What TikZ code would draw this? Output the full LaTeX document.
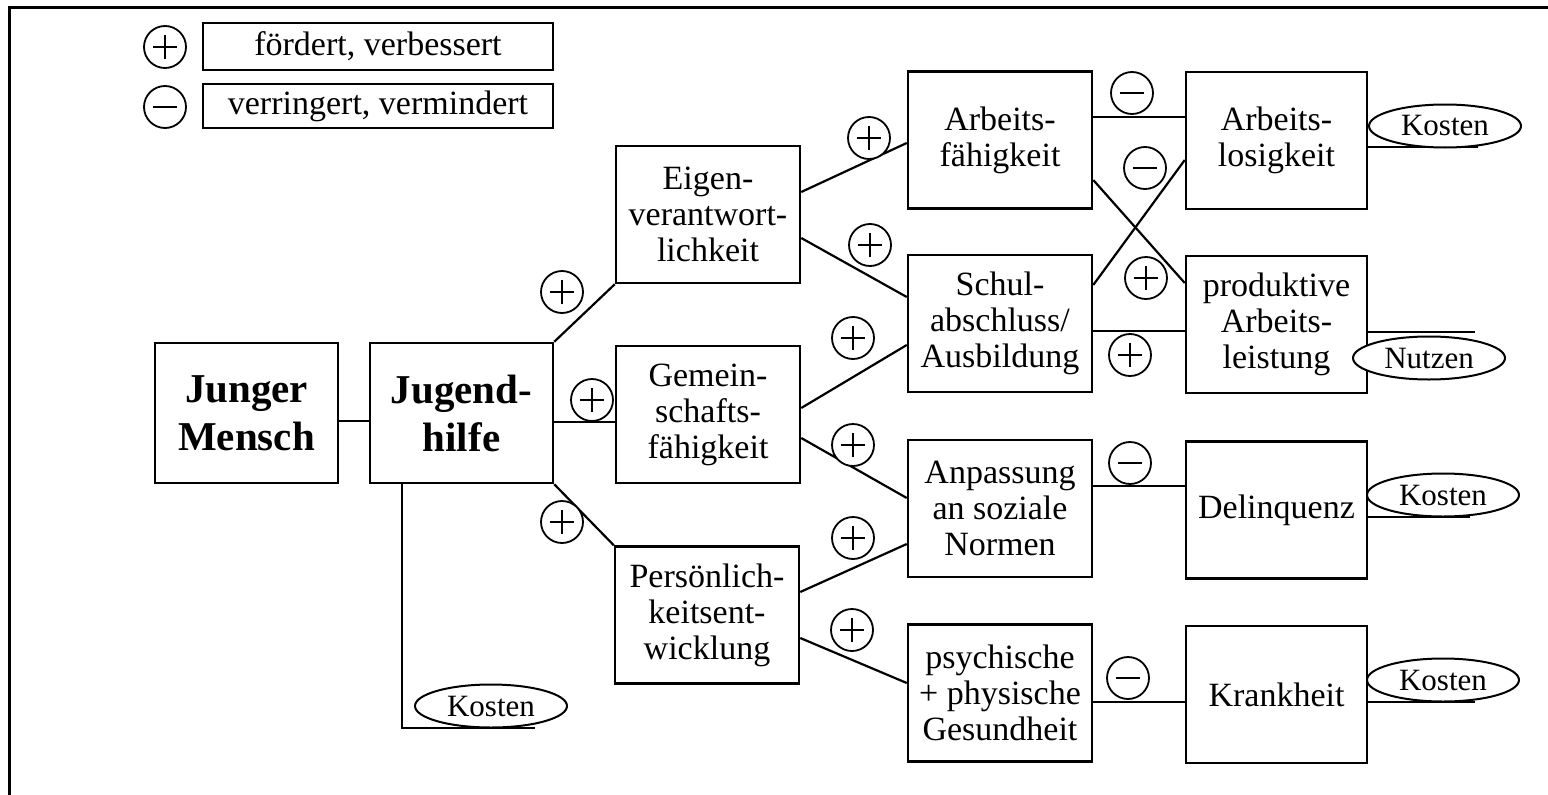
\documentclass[tikz,border=0pt]{standalone}
\usepackage{fontspec}
\setmainfont{Liberation Serif}
\usetikzlibrary{shapes.geometric}
\tikzset{
  box/.style={draw, line width=2.5pt, align=center, inner sep=0pt,
    minimum width=184pt, minimum height=137pt,
    font=\fontsize{34}{36}\selectfont},
  bigbox/.style={box, minimum width=183pt, minimum height=140pt,
    font=\fontsize{41}{48}\selectfont\bfseries},
  rbox/.style={box, minimum width=181pt},
  legbox/.style={draw, line width=2.2pt, inner sep=0pt, minimum width=350pt,
    font=\fontsize{34}{36}\selectfont},
  oval/.style={ellipse, draw, line width=2pt, inner sep=0pt,
    minimum width=152pt, minimum height=43pt,
    font=\fontsize{31}{33}\selectfont},
  conn/.style={line width=2.2pt},
  sgn/.style={circle, draw, line width=1.8pt, minimum size=42pt, inner sep=0pt, fill=white},
  psign/.style={sgn, path picture={
    \draw[line width=2.2pt] ([xshift=-12pt]path picture bounding box.center) -- ([xshift=12pt]path picture bounding box.center);
    \draw[line width=2.2pt] ([yshift=-12pt]path picture bounding box.center) -- ([yshift=12pt]path picture bounding box.center);}},
  msign/.style={sgn, path picture={
    \draw[line width=2.2pt] ([xshift=-12pt]path picture bounding box.center) -- ([xshift=12pt]path picture bounding box.center);}},
}
\begin{document}
\begin{tikzpicture}[x=1pt,y=-1pt]
\useasboundingbox (0,0) rectangle (1548,795);
% frame
\coordinate (ftl) at (9,7.5);
\coordinate (ftr) at (1548,7.5);
\coordinate (fbl) at (9,795);
\draw[line width=3pt] (fbl) -- (ftl) -- (ftr);

% legend
\node[psign] (lp) at (165,47) {};
\node[legbox, minimum height=47pt] (lb1) at (378,46.5) {fördert, verbessert};
\node[msign] (lm) at (165,107) {};
\node[legbox, minimum height=44pt] (lb2) at (378,106) {verringert, vermindert};

% boxes
\node[bigbox] (jm) at (246.5,413) {Junger\\Mensch};
\node[bigbox] (jh) at (461.5,413) {Jugend-\\hilfe};
\node[box] (eigen) at (708,214.5) {Eigen-\\verantwort-\\lichkeit};
\node[box] (gemein) at (708,414.5) {Gemein-\\schafts-\\fähigkeit};
\node[box] (pers) at (707,615) {Persönlich-\\keitsent-\\wicklung};
\node[box] (arbf) at (1000,140) {Arbeits-\\fähigkeit};
\node[box] (schul) at (1000,323.5) {Schul-\\abschluss/\\Ausbildung};
\node[box] (anp) at (1000,508.5) {Anpassung\\an soziale\\Normen};
\node[box] (psy) at (1000,693) {psychische\\+ physische\\Gesundheit};
\node[rbox] (arbl) at (1276.5,140.5) {Arbeits-\\losigkeit};
\node[rbox] (prod) at (1276.5,324.5) {produktive\\Arbeits-\\leistung};
\node[rbox] (del) at (1276.5,510) {Delinquenz};
\node[rbox] (krank) at (1276.5,694.5) {Krankheit};

% connectors
\draw[conn] ([yshift=-8pt]jm.east) -- ([yshift=-8pt]jm.east -| jh.west);
\draw[conn] (jh.north east) -- (eigen.south west);
\draw[conn] ([yshift=-9pt]jh.east) -- ([yshift=-9pt]jh.east -| gemein.west);
\draw[conn] (jh.south east) -- (pers.north west);
\coordinate (kjhend) at (535,728);
\draw[conn] ([xshift=-59.5pt]jh.south) |- (kjhend);

\draw[conn] ([yshift=22.5pt]eigen.east) -- ([yshift=-3pt]arbf.west);
\draw[conn] ([yshift=-23.5pt]eigen.east) -- ([yshift=26.5pt]schul.west);
\draw[conn] ([yshift=6.5pt]gemein.east) -- ([yshift=-21.5pt]schul.west);
\draw[conn] ([yshift=-23.5pt]gemein.east) -- ([yshift=10.5pt]anp.west);
\draw[conn] ([yshift=23pt]pers.east) -- ([yshift=-35.5pt]anp.west);
\draw[conn] ([yshift=-23pt]pers.east) -- ([yshift=10pt]psy.west);

\draw[conn] ([yshift=23pt]arbf.east) -- ([yshift=23pt]arbf.east -| arbl.west);
\draw[conn] ([yshift=-40pt]arbf.east) -- ([yshift=41.5pt]prod.west);
\draw[conn] ([yshift=38.5pt]schul.east) -- ([yshift=-19.5pt]arbl.west);
\draw[conn] ([yshift=-7.5pt]schul.east) -- ([yshift=-7.5pt]schul.east -| prod.west);
\draw[conn] ([yshift=22.5pt]anp.east) -- ([yshift=22.5pt]anp.east -| del.west);
\draw[conn] ([yshift=-9pt]psy.east) -- ([yshift=-9pt]psy.east -| krank.west);

% outcome lines
\coordinate (e1) at (1478,147);
\coordinate (e2) at (1475,332);
\coordinate (e3) at (1470,517);
\coordinate (e4) at (1475,702);
\draw[conn] ([yshift=-6.5pt]arbl.east) -- (e1);
\draw[conn] ([yshift=-7.5pt]prod.east) -- (e2);
\draw[conn] ([yshift=-7pt]del.east) -- (e3);
\draw[conn] ([yshift=-7.5pt]krank.east) -- (e4);

% ovals
\node[oval, fill=white] (k1) at (1445,126) {Kosten};
\node[oval, fill=white] (nu) at (1429,358) {Nutzen};
\node[oval, fill=white] (k2) at (1443,495) {Kosten};
\node[oval, fill=white] (k3) at (1443,680) {Kosten};
\node[oval, fill=white] (kjh) at (491,706) {Kosten};

% signs
\node[psign] (s1) at (562,292) {};
\node[psign] (s2) at (592,400) {};
\node[psign] (s3) at (562,522) {};
\node[psign] (s4) at (869,138) {};
\node[psign] (s5) at (870,245) {};
\node[psign] (s6) at (853,338) {};
\node[psign] (s7) at (853,445) {};
\node[psign] (s8) at (853,538) {};
\node[psign] (s9) at (852,630) {};
\node[msign] (s10) at (1132,93) {};
\node[msign] (s11) at (1145,168) {};
\node[psign] (s12) at (1146,278) {};
\node[psign] (s13) at (1130,355) {};
\node[msign] (s14) at (1130,463) {};
\node[msign] (s15) at (1128,678) {};
\end{tikzpicture}
\end{document}
